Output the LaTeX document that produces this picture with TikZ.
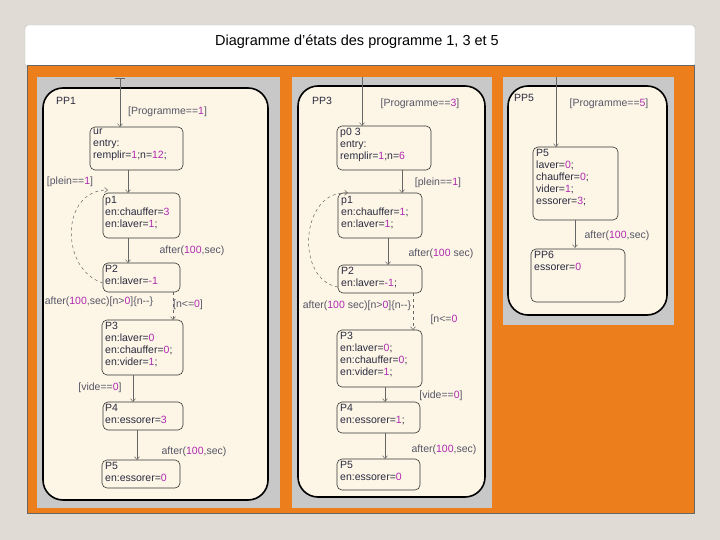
\documentclass[tikz,border=0pt]{standalone}
\usepackage{fontspec}
\setmainfont{Liberation Sans}
\usetikzlibrary{arrows.meta}
\definecolor{bg}{HTML}{E0DCD5}
\definecolor{org}{HTML}{EC7F1C}
\definecolor{gry}{HTML}{C8C8C8}
\definecolor{crm}{HTML}{FDF6E6}
\definecolor{txt}{HTML}{2A2A40}
\definecolor{pur}{HTML}{B02AB0}
\newcommand{\nm}[1]{\textcolor{pur}{#1}}
\tikzset{
 st/.style={draw=black!80,rounded corners=5pt,line width=0.6pt},
 sup/.style={draw=black,rounded corners=20pt,line width=1.6pt,fill=crm},
 lb/.style={anchor=north west,align=left,font=\fontsize{10.5}{12}\selectfont,text=txt,inner sep=1pt},
 gd/.style={font=\fontsize{10.5}{12}\selectfont,text=txt!80,inner sep=1pt},
 tr/.style={draw=black!60,line width=0.5pt,-{Straight Barb[length=3pt,width=5pt]}},
 dtr/.style={tr,dashed}
}
\begin{document}
\begin{tikzpicture}[x=1pt,y=-1pt]
\useasboundingbox (0,0) rectangle (720,540);
\fill[bg] (0,0) rectangle (720,540);
\node[draw=black!30,fill=white,rounded corners=3pt,minimum width=670pt,minimum height=42pt] (title) at (360,46) {};
\node[font=\fontsize{14.5}{16}\selectfont] (tt) at (357,42) {Diagramme d’états des programme 1, 3 et 5};
\fill[org] (27,65) rectangle (694,513);
\draw[black!60] (27,65) rectangle (694,513);
\fill[gry] (37,77) rectangle (280,508);
\fill[gry] (292,77) rectangle (492,508);
\fill[gry] (503,77) rectangle (674,325);
\draw[sup] (43,88) rectangle (268,500);
\draw[sup] (298,86) rectangle (485,497);
\draw[sup] (508,86) rectangle (667,315);
% PP1
\node[lb] (pp1) at (55,96) {PP1};
\draw[st] (90,127) rectangle (183,170); \node[lb] (a0) at (92,128) {ur\\entry:\\remplir=\nm{1};n=\nm{12};};
\draw[st] (103,193) rectangle (180,238); \node[lb] (a1) at (104,195) {p1\\en:chauffer=\nm{3}\\en:laver=\nm{1};};
\draw[st] (103,263) rectangle (180,292); \node[lb] (a2) at (104,264) {P2\\en:laver=\nm{-1}};
\draw[st] (102,320) rectangle (183,375); \node[lb] (a3) at (104,321) {P3\\en:laver=\nm{0}\\en:chauffer=\nm{0};\\en:vider=\nm{1};};
\draw[st] (103,402) rectangle (183,430); \node[lb] (a4) at (104,403) {P4\\en:essorer=\nm{3}};
\draw[st] (102,460) rectangle (180,488); \node[lb] (a5) at (104,461) {P5\\en:essorer=\nm{0}};
\coordinate (s1) at (120,78); \draw[black!60] (115,78)--(125,78);
\draw[tr] (s1) -- (120,127);
\node[gd,anchor=west] (g1) at (127,112) {[Programme==\nm{1}]};
\draw[tr] (128,170) -- (128,193);
\draw[tr] (128,238) -- (128,263);
\node[gd] (g2) at (192,251) {after(\nm{100},sec)};
\draw[dtr] (173,292) -- (173,320);
\node[gd] (g3) at (188,305) {[n<=\nm{0}]};
\draw[tr] (133,375) -- (133,402);
\node[gd] (g4) at (100,388) {[vide==\nm{0}]};
\draw[tr] (137,430) -- (137,460);
\node[gd] (g5) at (194,452) {after(\nm{100},sec)};
\draw[dtr] (103,283) .. controls (60,270) and (60,190) .. (108,190);
\node[gd] (g6) at (70,182) {[plein==\nm{1}]};
\node[gd] (g7) at (99,302) {after(\nm{100},sec)[n>\nm{0}]\{n{-}{-}\}};
% PP3
\node[lb] (pp3) at (311,96) {PP3};
\draw[st] (337,126) rectangle (431,170); \node[lb] (b0) at (339,127) {p0 3\\entry:\\remplir=\nm{1};n=\nm{6}};
\draw[st] (338,193) rectangle (422,238); \node[lb] (b1) at (340,195) {p1\\en:chauffer=\nm{1};\\en:laver=\nm{1};};
\draw[st] (338,265) rectangle (422,293); \node[lb] (b2) at (340,266) {P2\\en:laver=\nm{-1};};
\draw[st] (337,330) rectangle (422,387); \node[lb] (b3) at (339,331) {P3\\en:laver=\nm{0};\\en:chauffer=\nm{0};\\en:vider=\nm{1};};
\draw[st] (337,402) rectangle (420,433); \node[lb] (b4) at (339,403) {P4\\en:essorer=\nm{1};};
\draw[st] (337,459) rectangle (420,490); \node[lb] (b5) at (339,460) {P5\\en:essorer=\nm{0}};
\draw[tr] (362,77) -- (362,126);
\node[gd] (h1) at (420,104) {[Programme==\nm{3}]};
\draw[tr] (402,170) -- (402,193);
\node[gd] (h2) at (438,183) {[plein==\nm{1}]};
\draw[dtr] (338,287) .. controls (295,280) and (300,190) .. (348,193);
\draw[tr] (388,238) -- (388,265);
\node[gd] (h3) at (441,254) {after(\nm{100} sec)};
\node[gd] (h4) at (357,306) {after(\nm{100} sec)[n>\nm{0}]\{n{-}{-}\}};
\draw[dtr] (413,293) -- (413,330);
\node[gd] (h5) at (444,320) {[n<=\nm{0}};
\draw[tr] (385,387) -- (385,402);
\node[gd] (h6) at (441,396) {[vide==\nm{0}]};
\draw[tr] (385,433) -- (385,459);
\node[gd] (h7) at (444,450) {after(\nm{100},sec)};
% PP5
\node[lb] (pp5) at (513,93) {PP5};
\draw[tr] (556,77) -- (556,147);
\node[gd] (k1) at (609,104) {[Programme==\nm{5}]};
\draw[st] (533,147) rectangle (618,220); \node[lb] (c1) at (535,148) {P5\\laver=\nm{0};\\chauffer=\nm{0};\\vider=\nm{1};\\essorer=\nm{3};};
\draw[tr] (575,220) -- (575,248);
\node[gd] (k2) at (617,236) {after(\nm{100},sec)};
\draw[st] (531,249) rectangle (625,302); \node[lb] (c2) at (533,250) {PP6\\essorer=\nm{0}};
\end{tikzpicture}
\end{document}
